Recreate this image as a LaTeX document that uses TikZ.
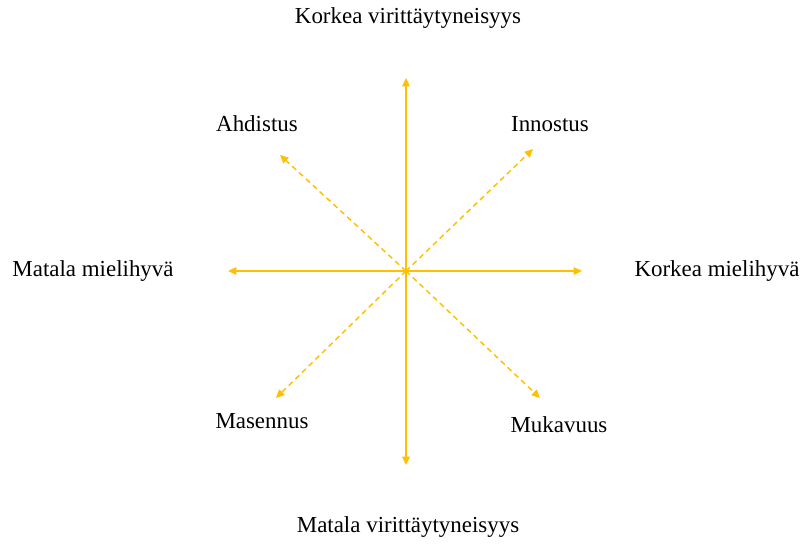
\documentclass[tikz,border=0pt]{standalone}
\usepackage{fontspec}
\setmainfont{Liberation Serif}
\usetikzlibrary{arrows.meta, positioning}
\definecolor{axisgold}{HTML}{FFC000}

\begin{document}
\begin{tikzpicture}[
  x=0.75pt, y=-0.75pt,
  >={Triangle[length=2.2mm, width=2.0mm]},
  lbl/.style  = {font=\fontsize{17.2pt}{20pt}\selectfont, inner sep=0pt},
  axis/.style = {->, line width=1.1pt, axisgold},
  diag/.style = {->, line width=1.1pt, axisgold, dash pattern=on 4pt off 3pt},
]
\useasboundingbox (0,0) rectangle (803,544);

% ---------- centre and arrow ends ----------
\coordinate (o)  at (406,271);
\coordinate (up) at (406,78);
\coordinate (dn) at (406,465);
\coordinate (lt) at (228,271);
\coordinate (rt) at (582,271);
\coordinate (ul) at (280,155);
\coordinate (ur) at (533,149);
\coordinate (ll) at (276,398);
\coordinate (lr) at (540,398);

% ---------- labels ----------
\node[lbl] (korvir) at (408,18)  {Korkea virittäytyneisyys};
\node[lbl] (matvir) at (408,527) {Matala virittäytyneisyys};
\node[lbl] (matmie) at (93,271)  {Matala mielihyvä};
\node[lbl] (kormie) at (717,271) {Korkea mielihyvä};
\node[lbl] (ahd)    at (257,124) {Ahdistus};
\node[lbl] (inn)    at (550,124) {Innostus};
\node[lbl] (mas)    at (262,421) {Masennus};
\node[lbl] (muk)    at (559,425) {Mukavuus};

% ---------- axes ----------
\foreach \e in {up,dn,lt,rt}{
  \draw[axis] (o) -- (\e);
}
\foreach \e in {ul,ur,ll,lr}{
  \draw[diag] (o) -- (\e);
}
\end{tikzpicture}
\end{document}
